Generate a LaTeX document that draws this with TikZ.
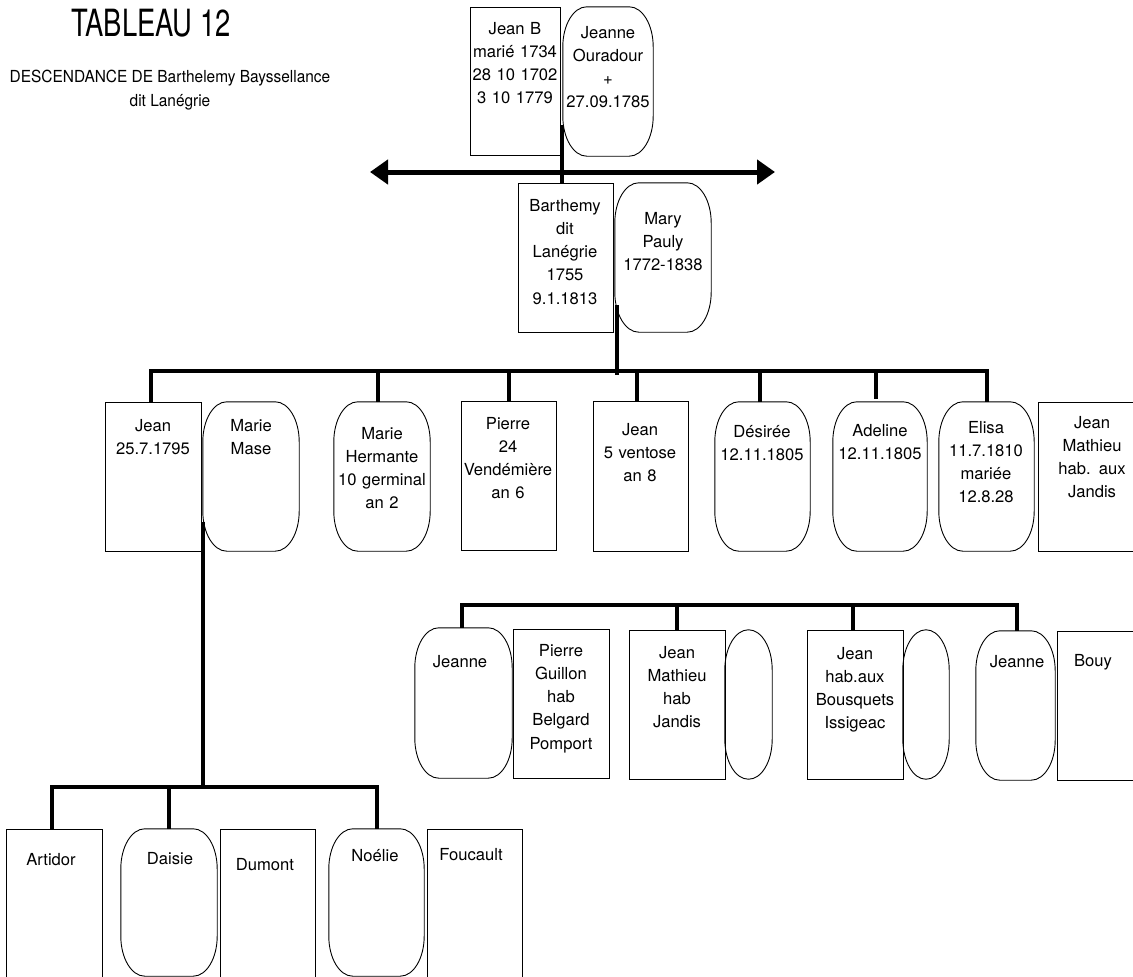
\documentclass[tikz,border=0pt]{standalone}
\usepackage{fontspec}
\setmainfont{TeX Gyre Heros}
\usetikzlibrary{arrows.meta,fit,calc}
\newcommand\myoval[2]{%
  \draw[line width=0.9bp] ($(#1.north west)+(#2,0)$) -- ($(#1.north east)+(-#2,0)$)
    arc[start angle=90,end angle=0,x radius=#2,y radius=40]
    -- ($(#1.south east)+(0,40)$)
    arc[start angle=0,end angle=-90,x radius=#2,y radius=40]
    -- ($(#1.south west)+(#2,0)$)
    arc[start angle=270,end angle=180,x radius=#2,y radius=40]
    -- ($(#1.north west)+(0,-40)$)
    arc[start angle=180,end angle=90,x radius=#2,y radius=40] -- cycle;}
\begin{document}
\begin{tikzpicture}[x=1bp,y=1bp,
  boxr/.style={draw, line width=0.9bp, inner sep=0pt},
  ovl/.style={inner sep=0pt},
  txt/.style={anchor=base, align=center, text width=110bp, inner sep=0pt,
    font=\fontsize{16.6bp}{23.3bp}\selectfont},
  conn/.style={line width=4bp},
  arrowline/.style={line width=5bp,
    {Triangle[length=18bp,width=24bp]}-{Triangle[length=18bp,width=24bp]}},
]
\fill[white] (0,0) rectangle (1133,-977);
\useasboundingbox (0,0) rectangle (1133,-977);

% title
\node[inner sep=0pt] (title) at (151,-23)
  {\scalebox{0.73}[1]{\fontsize{37.5bp}{40bp}\selectfont TABLEAU 12}};
\node[inner sep=0pt] (subtitle) at (170,-90)
  {\scalebox{0.93}[1]{\fontsize{16.6bp}{24bp}\selectfont\begin{tabular}{@{}c@{}}DESCENDANCE DE Barthelemy Bayssellance\\dit Lan\'egrie\end{tabular}}};

% generation 1
\node[boxr, fit={(470,-7)(560,-155)}] (jeanb) {};
\node[ovl, fit={(563,-7)(653,-156)}] (jeanne) {};
% generation 2
\node[boxr, fit={(518,-183)(613,-332)}] (barth) {};
\node[ovl, fit={(615,-183)(711,-332)}] (mary) {};
% generation 3
\node[boxr, fit={(105,-402)(201,-551)}] (jean1) {};
\node[ovl, fit={(203,-402)(299,-551)}] (mase) {};
\node[ovl, fit={(334,-402)(430,-551)}] (herm) {};
\node[boxr, fit={(461,-401)(556,-550)}] (pierre) {};
\node[boxr, fit={(593,-401)(688,-551)}] (jean5) {};
\node[ovl, fit={(715,-402)(810,-551)}] (desiree) {};
\node[ovl, fit={(833,-402)(927,-551)}] (adeline) {};
\node[ovl, fit={(939,-402)(1034,-551)}] (elisa) {};
\node[boxr, fit={(1038,-402)(1146,-551)}] (jmath) {};
% row of Elisa's children
\node[ovl, fit={(415,-628)(512,-778)}] (jeanneA) {};
\node[boxr, fit={(513,-629)(609,-778)}] (guillon) {};
\node[boxr, fit={(629,-630)(725,-779)}] (jmhab) {};
\node[ovl, fit={(725,-630)(772,-779)}] (spA) {};
\node[boxr, fit={(807,-630)(903,-779)}] (jbous) {};
\node[ovl, fit={(903,-630)(949,-779)}] (spB) {};
\node[ovl, fit={(976,-631)(1055,-780)}] (jeanneB) {};
\node[boxr, fit={(1057,-631)(1150,-780)}] (bouy) {};
% row of Jean's children
\node[boxr, fit={(6,-829)(102,-990)}] (artidor) {};
\node[ovl, fit={(121,-829)(217,-976)}] (daisie) {};
\node[boxr, fit={(220,-829)(315,-990)}] (dumont) {};
\node[ovl, fit={(329,-829)(424,-976)}] (noelie) {};
\node[boxr, fit={(427,-829)(522,-990)}] (foucault) {};

% oval outlines
\myoval{jeanne}{24}
\myoval{mary}{24}
\myoval{mase}{24}
\myoval{herm}{24}
\myoval{desiree}{24}
\myoval{adeline}{24}
\myoval{elisa}{24}
\myoval{jeanneA}{24}
\myoval{spA}{23.5}
\myoval{spB}{23}
\myoval{jeanneB}{24}
\myoval{daisie}{24}
\myoval{noelie}{24}

% texts
\node[txt] (tjeanb) at (515,-34) {Jean B\\mari\'e 1734\\28 10 1702\\3 10 1779};
\node[txt] (tjeanne) at (608,-38) {Jeanne\\Ouradour\\+\\27.09.1785};
\node[txt] (tbarth) at (565,-211) {Barthemy\\dit\\Lan\'egrie\\1755\\9.1.1813};
\node[txt] (tmary) at (663,-224) {Mary\\Pauly\\1772-1838};
\node[txt] (tjean1) at (153,-431) {Jean\\25.7.1795};
\node[txt] (tmase) at (251,-431) {Marie\\Mase};
\node[txt] (therm) at (382,-439) {Marie\\Hermante\\10 germinal\\an 2};
\node[txt] (tpierre) at (508,-429) {Pierre\\24\\Vend\'emi\`ere\\an 6};
\node[txt] (tjean5) at (640,-435) {Jean\\5 ventose\\an 8};
\node[txt] (tdesiree) at (762,-437) {D\'esir\'ee\\12.11.1805};
\node[txt] (tadeline) at (880,-436) {Adeline\\12.11.1805};
\node[txt] (telisa) at (986,-433) {Elisa\\11.7.1810\\mari\'ee\\12.8.28};
\node[txt] (tjmath) at (1092,-428) {Jean\\Mathieu\\hab. aux\\Jandis};
\node[txt] (tjeanneA) at (460,-667) {Jeanne};
\node[txt] (tguillon) at (561,-656) {Pierre\\Guillon\\hab\\Belgard\\Pomport};
\node[txt] (tjmhab) at (677,-658) {Jean\\Mathieu\\hab\\Jandis};
\node[txt] (tjbous) at (855,-659) {Jean\\hab.aux\\Bousquets\\Issigeac};
\node[txt] (tjeanneB) at (1017,-667) {Jeanne};
\node[txt] (tbouy) at (1093,-666) {Bouy};
\node[txt] (tartidor) at (51,-865) {Artidor};
\node[txt] (tdaisie) at (170,-864) {Daisie};
\node[txt] (tdumont) at (265,-870) {Dumont};
\node[txt] (tnoelie) at (375,-861) {No\'elie};
\node[txt] (tfoucault) at (471,-860) {Foucault};

% connectors
\coordinate (pj) at (562,-125);
\draw[conn] (pj) -- (pj |- barth.north);
\coordinate (aL) at (370,-172);
\coordinate (aR) at (775,-172);
\draw[arrowline] (aL) -- (aR);

\coordinate (pm) at (617,-305);
\coordinate (b1) at (617,-371);
\draw[conn] (pm) -- ([yshift=-4bp]b1);
\draw[conn] ([xshift=-2bp]jean1.north) |- (b1) -| (elisa.north);
\draw[conn] ([xshift=-4bp]herm.north) -- ([xshift=-4bp]herm.north |- b1);
\draw[conn] (pierre.north) -- (pierre.north |- b1);
\draw[conn] ([xshift=-4bp]jean5.north) -- ([xshift=-4bp]jean5.north |- b1);
\draw[conn] ([xshift=-3bp]desiree.north) -- ([xshift=-3bp]desiree.north |- b1);
\draw[conn] ([xshift=-4bp,yshift=3bp]adeline.north) -- ([xshift=-4bp]adeline.north |- b1);

\coordinate (pmase) at (203,-522);
\coordinate (b2) at (203,-787);
\draw[conn] (pmase) -- (b2);
\draw[conn] ([xshift=-2bp]artidor.north) |- (b2) -| (noelie.north);
\draw[conn] (daisie.north) -- (daisie.north |- b2);

\coordinate (b3) at (700,-605);
\draw[conn] ([xshift=-1.5bp]jeanneA.north) |- (b3) -| ([xshift=1.5bp]jeanneB.north);
\draw[conn] (jmhab.north) -- (jmhab.north |- b3);
\draw[conn] ([xshift=-2bp]jbous.north) -- ([xshift=-2bp]jbous.north |- b3);
\end{tikzpicture}
\end{document}
